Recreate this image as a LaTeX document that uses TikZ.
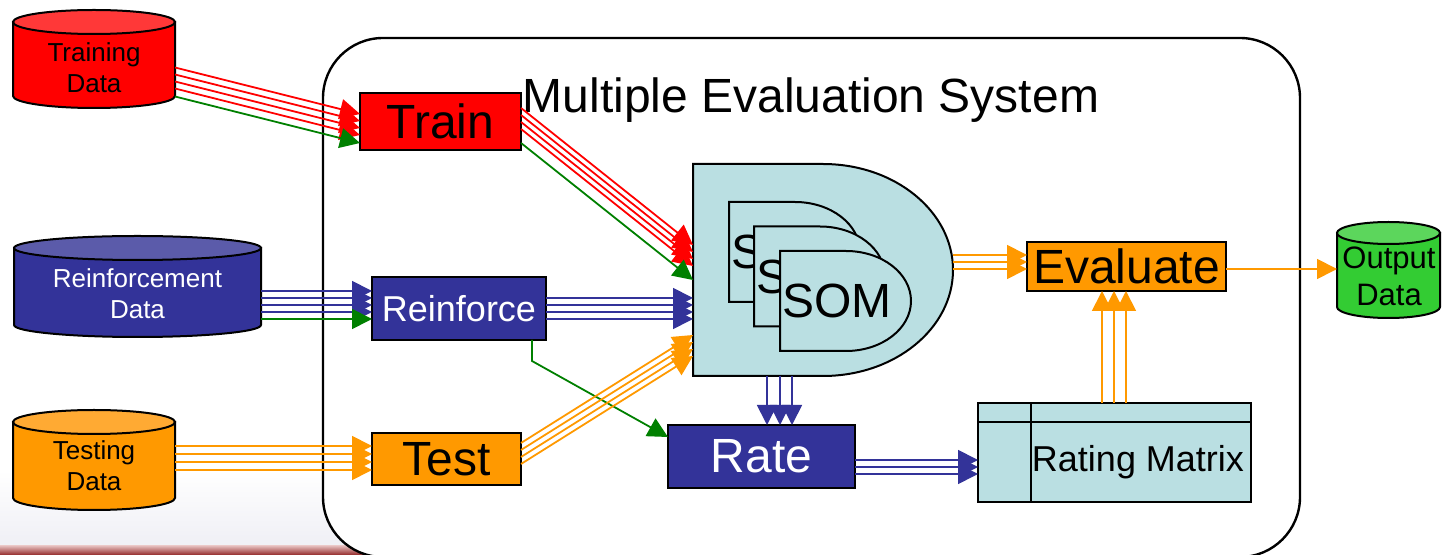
\documentclass[tikz,border=0pt]{standalone}
\usepackage{fontspec}
\setmainfont{Liberation Sans}
\usetikzlibrary{arrows.meta,calc}

\definecolor{cRed}{HTML}{FF0000}
\definecolor{cRedTop}{HTML}{FF3838}
\definecolor{cNavy}{HTML}{333399}
\definecolor{cNavyTop}{HTML}{5B5BAA}
\definecolor{cOrange}{HTML}{FF9900}
\definecolor{cOrangeTop}{HTML}{FFAA33}
\definecolor{cGreen}{HTML}{33CC33}
\definecolor{cGreenTop}{HTML}{5CD65C}
\definecolor{cLink}{HTML}{008000}
\definecolor{cCyan}{HTML}{BADFE2}
\definecolor{cStrip}{HTML}{8A1818}
\definecolor{cStripTop}{HTML}{E2B8B8}
\definecolor{cHaze}{HTML}{EFEFF5}

% database drum: left, right, top-ellipse y, bottom-ellipse y, y radius, body colour, lid colour
\newcommand{\drumshape}[7]{%
  \pgfmathsetmacro{\dcx}{(#1+#2)/2}%
  \pgfmathsetmacro{\drx}{(#2-#1)/2}%
  \pgfmathsetmacro{\dkx}{0.5523*\drx}%
  \pgfmathsetmacro{\dky}{0.5523*#5}%
  \filldraw[fill=#6, draw=black, line width=1pt]
    (#1,#3) -- (#1,#4) .. controls (#1,#4+\dky) and (\dcx-\dkx,#4+#5) .. (\dcx,#4+#5)
    .. controls (\dcx+\dkx,#4+#5) and (#2,#4+\dky) .. (#2,#4) -- (#2,#3) -- cycle;
  \filldraw[fill=#7, draw=black, line width=1pt]
    (#1,#3) .. controls (#1,#3-\dky) and (\dcx-\dkx,#3-#5) .. (\dcx,#3-#5)
    .. controls (\dcx+\dkx,#3-#5) and (#2,#3-\dky) .. (#2,#3)
    .. controls (#2,#3+\dky) and (\dcx+\dkx,#3+#5) .. (\dcx,#3+#5)
    .. controls (\dcx-\dkx,#3+#5) and (#1,#3+\dky) .. (#1,#3) -- cycle;
}

% D-shaped block: left, top, bottom, end of flat part, x radius of the round side
\newcommand{\gateshape}[5]{%
  \pgfmathsetmacro{\gcy}{(#2+#3)/2}%
  \pgfmathsetmacro{\gry}{(#3-#2)/2}%
  \filldraw[fill=cCyan, draw=black, line width=1pt]
    (#1,#2) -- (#4,#2) .. controls (#4+0.5523*#5,#2) and (#4+#5,\gcy-0.5523*\gry) .. (#4+#5,\gcy)
    .. controls (#4+#5,\gcy+0.5523*\gry) and (#4+0.5523*#5,#3) .. (#4,#3) -- (#1,#3) -- cycle;
}

\begin{document}
\begin{tikzpicture}[x=0.5pt,y=-0.5pt,
  holder/.style={inner sep=0pt, outer sep=0pt, align=center},
  boxnode/.style={draw=black, line width=0.8pt, inner sep=0pt, outer sep=0pt,
                  font=\fontsize{24}{28}\selectfont},
  drumtext/.style={holder, font=\fontsize{13}{15.5}\selectfont},
  somtext/.style={holder, font=\fontsize{24}{28}\selectfont},
  wire/.style={line width=0.9pt, -{Triangle[length=10pt,width=10pt]}},
  redw/.style={wire, draw=cRed},
  grnw/.style={wire, draw=cLink},
  bluw/.style={wire, draw=cNavy},
  orgw/.style={wire, draw=cOrange}]

\useasboundingbox (0,0) rectangle (1442,555);

% faint band and dark red strip along the lower left edge
\fill[top color=white, bottom color=cHaze] (0,470) rectangle (380,547);
\fill[top color=cStripTop, bottom color=cStrip] (0,546) rectangle (390,556);

% system frame
\draw[line width=1.2pt, fill=white, rounded corners=30pt] (323,38) rectangle (1300,557);
\node[anchor=base, font=\fontsize{24}{28}\selectfont] (title) at (811,113) {Multiple Evaluation System};

% data stores
\drumshape{13}{175}{22}{96}{12}{cRed}{cRedTop}
\node[drumtext, minimum width=81pt, minimum height=38pt] (tdata) at (94,67.5) {Training\\Data};
\drumshape{14}{261}{248}{325}{12}{cNavy}{cNavyTop}
\node[drumtext, text=white, minimum width=123.5pt, minimum height=38pt] (rdata) at (137.5,294) {Reinforcement\\Data};
\drumshape{13}{175}{422}{498}{12}{cOrange}{cOrangeTop}
\node[drumtext, minimum width=81pt, minimum height=38pt] (sdata) at (94,466) {Testing\\Data};
\drumshape{1337}{1440}{233}{307}{11}{cGreen}{cGreenTop}
\node[holder, font=\fontsize{15.5}{18.5}\selectfont, minimum width=52pt, minimum height=36pt] (odata) at (1389,276.5) {Output\\Data};

% process boxes
\node[boxnode, fill=cRed, minimum width=80.5pt, minimum height=28.5pt] (train) at (440.5,121.5) {Train};
\node[boxnode, fill=cNavy, text=white, font=\fontsize{18}{22}\selectfont,
      minimum width=87pt, minimum height=31.5pt] (reinf) at (459,308.5) {Reinforce};
\node[boxnode, fill=cOrange, minimum width=74.5pt, minimum height=26pt] (test) at (446.5,459) {Test};
\node[boxnode, fill=cNavy, text=white, minimum width=93.5pt, minimum height=31.5pt] (rate) at (761.5,456.5) {Rate};
\node[boxnode, fill=cOrange, minimum width=99.5pt, minimum height=24.5pt] (eval) at (1126.5,266.5) {Evaluate};

% rating matrix table
\node[draw=black, line width=0.8pt, fill=cCyan, inner sep=0pt, outer sep=0pt,
      minimum width=136.5pt, minimum height=49.5pt] (rm) at (1114.5,452.5) {};
\draw[line width=0.8pt] ($(rm.north west)+(0,19)$) -- ($(rm.north east)+(0,19)$);
\draw[line width=0.8pt] ($(rm.north west)+(53,0)$) -- ($(rm.south west)+(53,0)$);
\node[holder, font=\fontsize{18}{22}\selectfont] (rmlabel) at (1138,462) {Rating Matrix};

% stack of SOMs inside the D block; the back two show only their first letter
\gateshape{693}{164}{376}{823}{130}
\node[holder, minimum width=130pt, minimum height=106pt] (gate) at (823,270) {};
\gateshape{729}{202}{302}{795}{65}
\node[somtext, anchor=west] (som1) at (731.5,252) {S};
\gateshape{754}{226.5}{326.5}{820}{65}
\node[somtext, anchor=west] (som2) at (756.5,276.5) {S};
\gateshape{780}{251}{351}{846}{65}
\node[somtext] (som3) at (837,301) {SOM};

% training data into Train
\foreach \a/\b in {0/-7.5, 7/-0.5, 14/6.5, 21/13.5}
  \draw[redw] ($(tdata.east)+(0,\a)$) -- ($(train.west)+(0,\b)$);
\draw[grnw] ($(tdata.east)+(0,29)$) -- ($(train.west)+(0,21.5)$);

% Train into the SOM block
\foreach \a/\b in {-13.5/-25, -6.5/-18, 0.5/-11, 7.5/-4}
  \draw[redw] ($(train.east)+(0,\a)$) -- ($(gate.west)+(0,\b)$);
\draw[grnw] ($(train.east)+(0,21.5)$) -- ($(gate.west)+(0,10)$);

% reinforcement data into Reinforce
\foreach \a/\b in {-3/-17.5, 4/-10.5, 11/-3.5, 18/3.5}
  \draw[bluw] ($(rdata.east)+(0,\a)$) -- ($(reinf.west)+(0,\b)$);
\draw[grnw] ($(rdata.east)+(0,25)$) -- ($(reinf.west)+(0,10.5)$);

% Reinforce into the SOM block
\foreach \a/\b in {-10.5/28, -3.5/35, 3.5/42, 10.5/49}
  \draw[bluw] ($(reinf.east)+(0,\a)$) -- ($(gate.west)+(0,\b)$);

% Reinforce down to Rate
\draw[grnw] ($(reinf.south)+(73,0)$) -- ++(0,21) -- ($(rate.west)+(0,-19.5)$);

% testing data into Test
\foreach \a/\b in {-20/-13, -12/-5, -4/3, 4/11}
  \draw[orgw] ($(sdata.east)+(0,\a)$) -- ($(test.west)+(0,\b)$);

% Test into the SOM block
\foreach \a/\b in {-16/65, -9/72, -2/79, 5/86}
  \draw[orgw] ($(test.east)+(0,\a)$) -- ($(gate.west)+(0,\b)$);

% SOM block down to Rate
\foreach \a/\b in {-56/5.5, -43/18.5, -31/30.5}
  \draw[bluw] ($(gate.south)+(\a,0)$) -- ($(rate.north)+(\b,0)$);

% Rate into the rating matrix
\foreach \a/\b in {3.5/7.5, 10.5/14.5, 17.5/21.5}
  \draw[bluw] ($(rate.east)+(0,\a)$) -- ($(rm.west)+(0,\b)$);

% rating matrix up to Evaluate
\foreach \a/\b in {-12.5/-24.5, -0.5/-12.5, 11.5/-0.5}
  \draw[orgw] ($(rm.north)+(\a,0)$) -- ($(eval.south)+(\b,0)$);

% SOM block into Evaluate
\foreach \a/\b in {-15/-11.5, -8/-4.5, -1/2.5}
  \draw[orgw] ($(gate.east)+(0,\a)$) -- ($(eval.west)+(0,\b)$);

% Evaluate to output data
\draw[orgw] ($(eval.east)+(0,2.5)$) -- ($(odata.west)+(0,-7.5)$);

\end{tikzpicture}
\end{document}
